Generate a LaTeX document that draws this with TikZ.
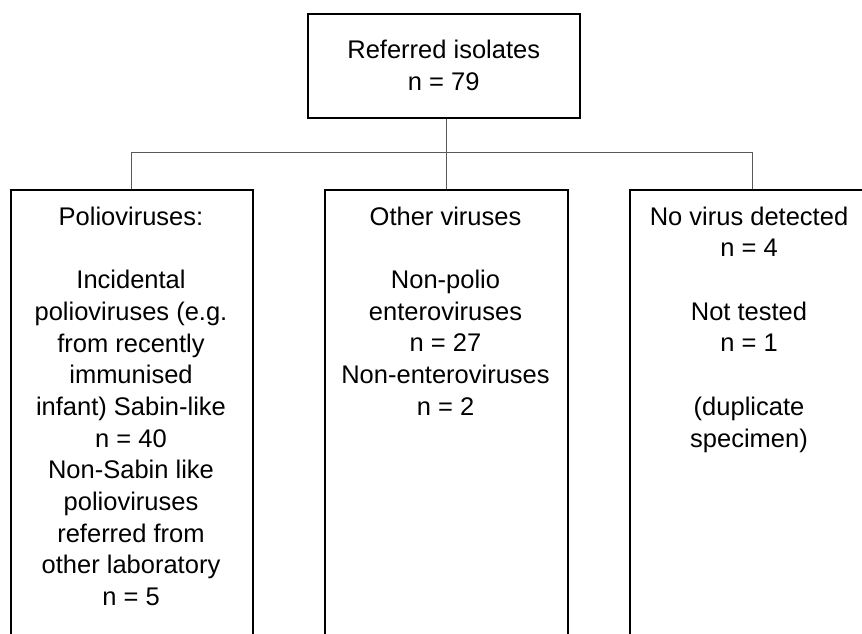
\documentclass[tikz,border=0pt]{standalone}
\usepackage{fontspec}
\setmainfont{Liberation Sans}
\begin{document}
\begin{tikzpicture}[x=1pt,y=-1pt,
  box/.style={draw=black, line width=1.5pt, rectangle, inner sep=0pt},
  col/.style={box, anchor=north west, minimum height=470pt},
  txt/.style={align=center, inner sep=0pt, anchor=north, font=\fontsize{25.5}{31.7}\selectfont},
  link/.style={draw=black!65, line width=1pt}]
\useasboundingbox (0,0) rectangle (862,633);
\clip (0,0) rectangle (862,633);
% top box
\node[box, anchor=north west, minimum width=272pt, minimum height=104pt,
      align=center, font=\fontsize{25.5}{32}\selectfont] (top) at (307,13)
      {Referred isolates\\n = 79};
% column boxes (open at the bottom edge of the picture)
\node[col, minimum width=242pt] (left) at (10,189) {};
\node[col, minimum width=243pt] (middle) at (324,189) {};
\node[col, minimum width=246pt] (right) at (629,189) {};
% texts
\node[txt] (lefttxt) at (131,202.8) {\strut Polioviruses:\\[31.7pt]
  Incidental\\polioviruses (e.g.\\from recently\\immunised\\infant) Sabin-like\\n = 40\\
  Non-Sabin like\\polioviruses\\referred from\\other laboratory\\n = 5};
\node[txt] (midtxt) at (445.5,202.8) {\strut Other viruses\\[31.7pt]
  Non-polio\\enteroviruses\\n = 27\\Non-enteroviruses\\n = 2};
\node[txt] (righttxt) at (749,202.8) {\strut No virus detected\\n = 4\\[31.7pt]
  Not tested\\n = 1\\[31.7pt](duplicate\\specimen)};
% connectors
\coordinate (bus) at (0,152);
\draw[link] (middle.north |- top.south) -- (middle.north);
\draw[link] (left.north |- bus) -- (right.north |- bus);
\draw[link] (left.north |- bus) -- (left.north);
\draw[link] (right.north |- bus) -- (right.north);
\end{tikzpicture}
\end{document}
